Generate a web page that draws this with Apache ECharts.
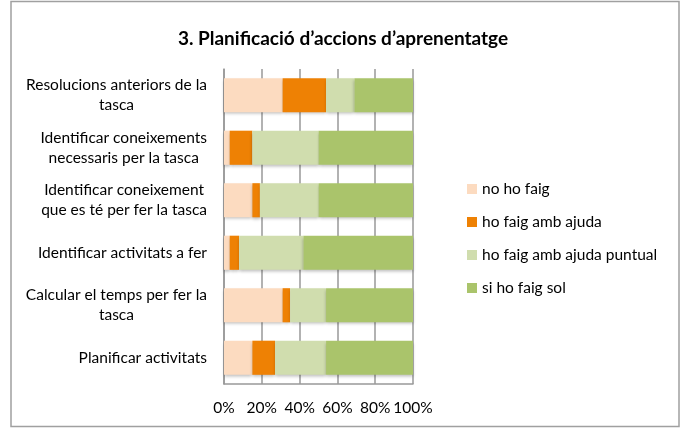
<!DOCTYPE html>
<html lang="ca">
<head>
    <meta charset="UTF-8">
    <title>Planificació d'accions d'aprenentatge</title>
    <script src="https://cdn.jsdelivr.net/npm/echarts@6/dist/echarts.min.js"></script>
    <style>
        html, body { margin: 0; padding: 0; background: #fff; }
        #chart { width: 686px; height: 428px; }
    </style>
</head>
<body>
<div id="chart"></div>
<script>
    // categories, de dalt a baix
    var categories = [
        "Resolucions anteriors de la\ntasca",
        "Identificar coneixements\nnecessaris per la tasca",
        "Identificar coneixement\nque es té per fer la tasca",
        "Identificar activitats a fer",
        "Calcular el temps per fer la\ntasca",
        "Planificar activitats"
    ];
    var seriesNames = ["no ho faig", "ho faig amb ajuda", "ho faig amb ajuda puntual", "si ho faig sol"];
    // percentatges llegits del gràfic
    var noHoFaig = [31, 3, 15, 3, 31, 15];
    var ambAjuda = [23, 12, 4, 5, 4, 12];
    var ambAjudaPuntual = [15, 35, 31, 34, 19, 27];
    var sol = [31, 50, 50, 58, 46, 46];
    var tickLabels = ["0%", "20%", "40%", "60%", "80%", "100%"];

    var colors = ["#FCDBC0", "#EE8104", "#D0DDAE", "#AAC46B"];
    var values = [noHoFaig, ambAjuda, ambAjudaPuntual, sol];
    var font = "Lato";

    var chart = echarts.init(document.getElementById("chart"));
    var option = {
        animation: false,
        color: colors,
        title: {
            text: "3. Planificació d’accions d’aprenentatge",
            left: "center",
            top: 24,
            textStyle: { fontFamily: font, fontSize: 19, fontWeight: "bold", color: "#000" }
        },
        legend: {
            orient: "vertical",
            left: 462,
            top: 176,
            itemWidth: 10,
            itemHeight: 10,
            itemGap: 17,
            icon: "rect",
            data: seriesNames,
            textStyle: { fontFamily: font, fontSize: 15.5, color: "#000" }
        },
        grid: { left: 224, right: 273, top: 69, bottom: 44 },
        xAxis: {
            type: "value",
            min: 0,
            max: 100,
            interval: 20,
            axisLine: { show: true, lineStyle: { color: "#999", width: 1.5 } },
            axisTick: { show: false },
            splitLine: { show: true, lineStyle: { color: "#999", width: 1.5 } },
            axisLabel: {
                margin: 16,
                fontFamily: font,
                fontSize: 15.5,
                color: "#000",
                formatter: function (v) { return tickLabels[v / 20]; }
            }
        },
        yAxis: {
            type: "category",
            inverse: true,
            data: categories,
            axisLine: { show: true, lineStyle: { color: "#999", width: 1.5 } },
            axisTick: { show: false },
            axisLabel: {
                margin: 17,
                formatter: function (v) {
                    return v.split("\n").map(function (l) { return "{c|" + l + "}"; }).join("\n");
                },
                rich: {
                    c: { align: "center", fontFamily: font, fontSize: 15.5, color: "#000", lineHeight: 20 }
                }
            }
        },
        series: values.map(function (d, i) {
            return {
                name: seriesNames[i],
                type: "bar",
                stack: "total",
                barCategoryGap: "35%",
                itemStyle: {
                    shadowColor: "rgba(0,0,0,0.25)",
                    shadowBlur: 3,
                    shadowOffsetY: 2
                },
                data: d
            };
        }),
        graphic: [{
            type: "rect",
            shape: { x: 11, y: 1.5, width: 668, height: 425 },
            style: { fill: null, stroke: "#a0a0a0", lineWidth: 1.5 }
        }]
    };
    chart.setOption(option);
</script>
</body>
</html>
